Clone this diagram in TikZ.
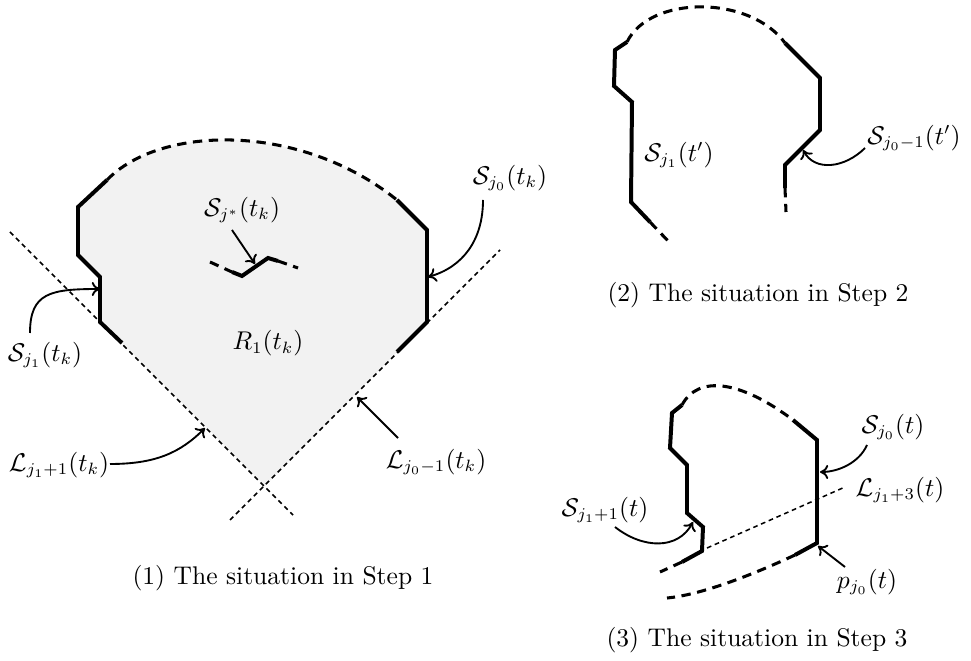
\documentclass[tikz,border=0pt]{standalone}
\usetikzlibrary{arrows.meta}
\begin{document}
\begin{tikzpicture}[x=0.015cm,y=-0.015cm,
  thk/.style={line width=1.7pt, line join=miter},
  thkdash/.style={line width=1.3pt, dash pattern=on 4pt off 2.8pt},
  thindash/.style={line width=0.65pt, dash pattern=on 2pt off 1.6pt},
  ptr/.style={line width=0.8pt, -{To[length=3.5pt,width=6pt]}},
  lbl/.style={inner sep=0pt, font=\fontsize{10.5}{12.5}\selectfont},
  capt/.style={inner sep=0pt, font=\fontsize{10.9}{13}\selectfont}]
\useasboundingbox (0,0) rectangle (971,661);

% ---------- Panel 1 ----------
\fill[gray!10] (122,343) -- (100,322) -- (100,277) -- (78,255) -- (78,207) -- (107,180)
  .. controls (160,125) and (300,122) .. (397,200) -- (427,230) -- (427,322) -- (397,352)
  -- (265,486) -- cycle;
\draw[thindash] (10,232) -- (293,515);
\draw[thindash] (230,520) -- (500,250);
\draw[thk] (122,343) -- (100,322) -- (100,277) -- (78,255) -- (78,207) -- (107,180);
\draw[thkdash] (107,180) .. controls (160,125) and (300,122) .. (397,200);
\draw[thk] (397,200) -- (427,230) -- (427,322) -- (397,352);
\draw[thkdash] (210,262) -- (232,272);
\draw[thk] (232,272) -- (242,276) -- (268,258) -- (278,261);
\draw[thkdash] (278,261) -- (298,268);

\node[lbl] (sjstar) at (242,210) {$\mathcal{S}_{j^*}(t_k)$};
\node[lbl] (sj1) at (45,355) {$\mathcal{S}_{j_1}(t_k)$};
\node[lbl] (r1) at (268,343) {$R_1(t_k)$};
\node[lbl] (sj0) at (510,178) {$\mathcal{S}_{j_0}(t_k)$};
\node[lbl] (lj1) at (59,465) {$\mathcal{L}_{j_1+1}(t_k)$};
\node[lbl] (lj0) at (436,462) {$\mathcal{L}_{j_0-1}(t_k)$};
\node[capt] (cap1) at (283,578) {(1) The situation in Step 1};

\coordinate (a1s) at (232,230); \coordinate (a1e) at (255,264);
\coordinate (a2s) at (30,333);  \coordinate (a2e) at (100,289);
\coordinate (a3s) at (110,464); \coordinate (a3e) at (205,428);
\coordinate (a4s) at (398,438); \coordinate (a4e) at (357,397);
\coordinate (a5s) at (483,200); \coordinate (a5e) at (428,277);
\draw[ptr] (a1s) -- (a1e);
\draw[ptr] (a2s) .. controls +(0,-40) and +(-50,0) .. (a2e);
\draw[ptr] (a3s) .. controls +(45,0) and +(-25,25) .. (a3e);
\draw[ptr] (a4s) -- (a4e);
\draw[ptr] (a5s) .. controls +(0,40) and +(35,-10) .. (a5e);

% ---------- Panel 2 ----------
\draw[thk] (627,42) -- (615,50) -- (614,86) -- (632,102) -- (631,202) -- (650,222);
\draw[thkdash] (650,222) -- (670,243);
\draw[thkdash] (627,42) .. controls (650,-5) and (750,-5) .. (785,43);
\draw[thk] (785,43) -- (820,78) -- (820,130) -- (785,165) -- (785,188);
\draw[thkdash] (785,188) -- (786,212);

\node[lbl] (sj1p) at (679,155) {$\mathcal{S}_{j_1}(t')$};
\node[lbl] (sj0p) at (914,138) {$\mathcal{S}_{j_0-1}(t')$};
\node[capt] (cap2) at (758,295) {(2) The situation in Step 2};
\coordinate (b1s) at (865,148); \coordinate (b1e) at (803,150);
\draw[ptr] (b1s) .. controls +(-20,20) and +(12,22) .. (b1e);

% ---------- Panel 3 ----------
\draw[thindash] (707,548) -- (845,487);
\draw[thk] (682,562) -- (702,551) -- (703,527) -- (687,513) -- (687,465) -- (670,448) -- (672,413) -- (682,405);
\draw[thkdash] (682,562) -- (660,572);
\draw[thkdash] (682,405) .. controls (698,375) and (740,380) .. (793,420);
\draw[thk] (793,420) -- (817,440) -- (817,543) -- (795,555);
\draw[thkdash] (795,555) .. controls (750,576) and (700,595) .. (667,598);

\node[lbl] (sj0t) at (893,427) {$\mathcal{S}_{j_0}(t)$};
\node[lbl] (lj3t) at (900,490) {$\mathcal{L}_{j_1+3}(t)$};
\node[lbl] (sj1t) at (605,510) {$\mathcal{S}_{j_1+1}(t)$};
\node[lbl] (pj0t) at (867,582) {$p_{j_0}(t)$};
\node[capt] (cap3) at (757,640) {(3) The situation in Step 3};

\coordinate (c1s) at (867,445); \coordinate (c1e) at (820,472);
\coordinate (c2s) at (615,527); \coordinate (c2e) at (693,522);
\coordinate (c3s) at (845,567); \coordinate (c3e) at (818,546);
\draw[ptr] (c1s) .. controls +(-8,18) and +(18,0) .. (c1e);
\draw[ptr] (c2s) .. controls +(28,22) and +(-15,28) .. (c2e);
\draw[ptr] (c3s) -- (c3e);
\end{tikzpicture}
\end{document}
